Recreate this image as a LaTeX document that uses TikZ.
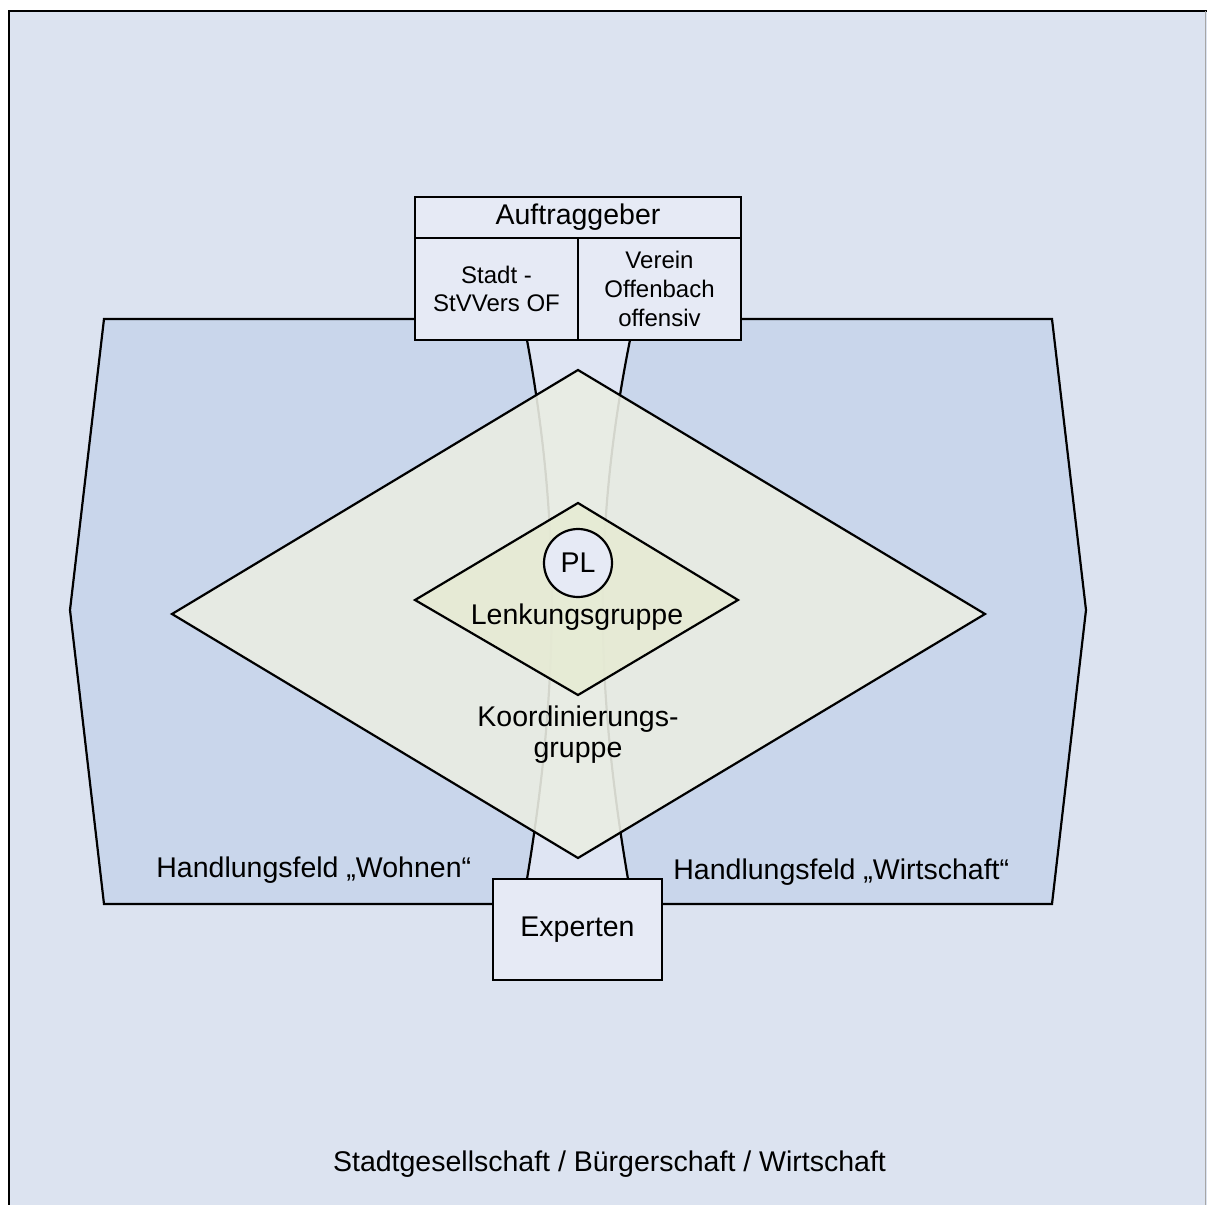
\documentclass[tikz,border=0pt]{standalone}
\usepackage{fontspec}
\setmainfont{Liberation Sans}
\definecolor{bgc}{HTML}{DCE3F0}
\definecolor{hexc}{HTML}{C9D6EB}
\definecolor{boxc}{HTML}{E6EAF5}
\definecolor{hourc}{HTML}{DFE5F3}
\definecolor{diac}{HTML}{EAEDE3}
\definecolor{sdiac}{HTML}{E6EBD4}
\newcommand\mainsz{\fontsize{14.25pt}{15.25pt}\selectfont}
\newcommand\cellsz{\fontsize{12pt}{14.4pt}\selectfont}
\begin{document}
\begin{tikzpicture}[x=0.5pt,y=-0.5pt,line join=miter,
  outline/.style={draw=black,line width=1.1pt},
  cellbox/.style={rectangle,draw=black,line width=1.1pt,fill=boxc,inner sep=0pt,align=center},
  txt/.style={inner sep=0pt,font=\mainsz,text=black}]
\useasboundingbox (0,0) rectangle (1207,1205);
% outer frame
\fill[bgc] (9,11) rectangle (1207,1205);
\draw[black,line width=1.3pt] (9,1205) -- (9,11) -- (1207,11);
\draw[gray!70,line width=0.6pt] (1205.5,11) -- (1205.5,1205);
% Handlungsfelder hexagon
\draw[outline,fill=hexc] (104,319) -- (1052,319) -- (1086,610) -- (1052,904) -- (104,904) -- (70,610) -- cycle;
% hourglass band
\coordinate (h1) at (527,340);
\coordinate (h2) at (527,879);
\coordinate (h3) at (628,879);
\coordinate (h4) at (630,340);
\fill[hourc] (h1) .. controls (560,520) and (560,680) .. (h2) -- (h3) .. controls (594,680) and (594,520) .. (h4) -- cycle;
\draw[outline] (h1) .. controls (560,520) and (560,680) .. (h2);
\draw[outline] (h4) .. controls (594,520) and (594,680) .. (h3);
% Koordinierungsgruppe diamond
\draw[outline,fill=diac,fill opacity=0.9] (578,370) -- (985,614) -- (578,858) -- (172,614) -- cycle;
% Lenkungsgruppe diamond
\draw[outline,fill=sdiac,fill opacity=0.9] (578,503) -- (738,600) -- (578,695) -- (415,600) -- cycle;
% PL circle
\node[circle,draw=black,line width=1.1pt,fill=boxc,minimum size=34pt,inner sep=0pt,font=\mainsz] (pl) at (578,563) {PL};
% Auftraggeber box
\node[cellbox,minimum width=163pt,minimum height=20.5pt,font=\mainsz] (auf) at (578,217.5) {Auftraggeber};
\node[cellbox,minimum width=81.5pt,minimum height=51pt,font=\cellsz] (stadt) at (496.5,289) {Stadt -\\StVVers OF};
\node[cellbox,minimum width=81.5pt,minimum height=51pt,font=\cellsz] (verein) at (659.5,289) {Verein\\Offenbach\\offensiv};
% Experten
\node[cellbox,minimum width=84.5pt,minimum height=50.5pt,font=\mainsz] (exp) at (577.5,929.5) {Experten};
% labels
\node[txt,anchor=base] (lenk) at (577,624) {Lenkungsgruppe};
\node[txt,align=center] (koord) at (578,734.5) {Koordinierungs-\\gruppe};
\node[txt,anchor=base west] (wohnen) at (156,877) {Handlungsfeld „Wohnen“};
\node[txt,anchor=base west] (wirt) at (673,879) {Handlungsfeld „Wirtschaft“};
\node[txt,anchor=base] (stadtges) at (609.5,1171) {Stadtgesellschaft / Bürgerschaft / Wirtschaft};
\end{tikzpicture}
\end{document}
